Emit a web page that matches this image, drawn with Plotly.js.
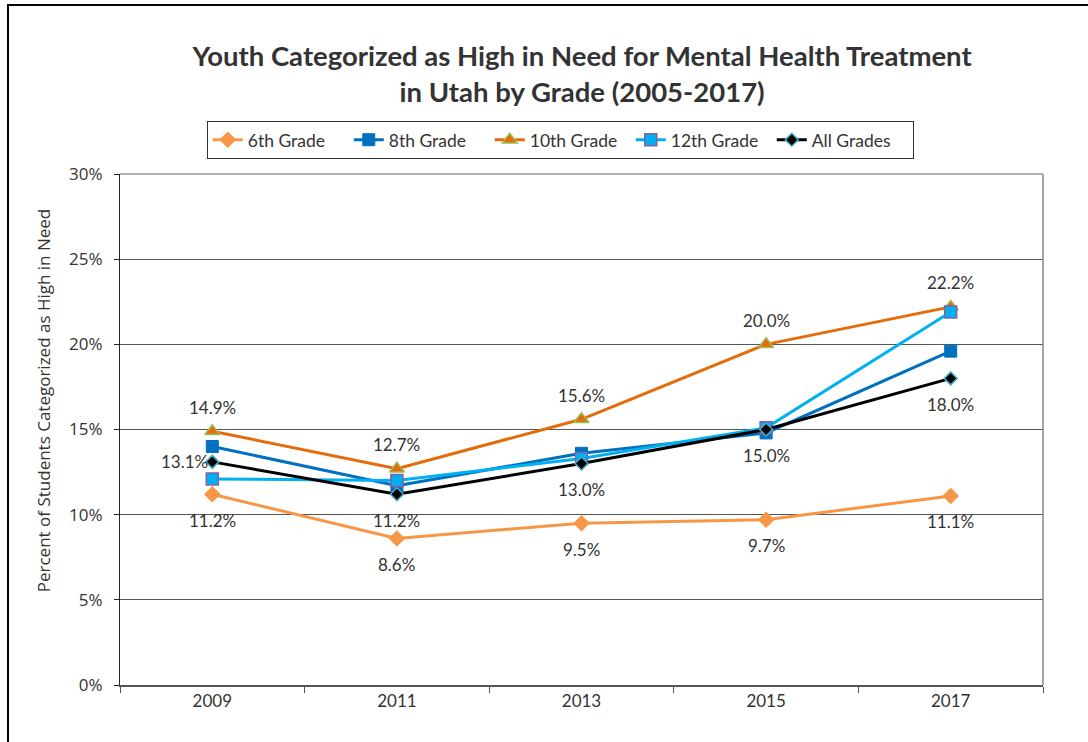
<!DOCTYPE html>
<html>
<head>
<meta charset="utf-8">
<script src="https://cdn.plot.ly/plotly-3.0.1.min.js"></script>
<style>
  html, body { margin: 0; padding: 0; background: #fff; }
  #frame { position: absolute; left: 7px; top: 4px; width: 1100px; height: 760px; border-left: 2px solid #000; border-top: 2px solid #000; pointer-events: none; z-index: 10; }
  #chart { position: absolute; left: 0; top: 0; width: 1088px; height: 742px; }
</style>
</head>
<body>
<div id="chart"></div>
<div id="frame"></div>
<script>
const years = ['2009', '2011', '2013', '2015', '2017'];
const grade6 = [11.2, 8.6, 9.5, 9.7, 11.1];
const grade8 = [14.0, 11.7, 13.6, 14.8, 19.6];
const grade10 = [14.9, 12.7, 15.6, 20.0, 22.2];
const grade12 = [12.1, 12.0, 13.3, 15.1, 21.9];
const allGrades = [13.1, 11.2, 13.0, 15.0, 18.0];
const yTicks = [0, 5, 10, 15, 20, 25, 30];

const traces = [
  { name: '6th Grade', x: years, y: grade6, type: 'scatter', mode: 'lines+markers',
    line: { color: '#F79646', width: 3 },
    marker: { symbol: 'diamond', size: 12, color: '#F79646', line: { color: '#F79646', width: 1 } } },
  { name: '8th Grade', x: years, y: grade8, type: 'scatter', mode: 'lines+markers',
    line: { color: '#0070C0', width: 3 },
    marker: { symbol: 'square', size: 12, color: '#0070C0', line: { color: '#0070C0', width: 1 } } },
  { name: '10th Grade', x: years, y: grade10, type: 'scatter', mode: 'lines+markers',
    line: { color: '#E46C0A', width: 3 },
    marker: { symbol: 'triangle-up', size: 13, color: '#E46C0A', line: { color: '#9BBB59', width: 1.5 } } },
  { name: '12th Grade', x: years, y: grade12, type: 'scatter', mode: 'lines+markers',
    line: { color: '#00B0F0', width: 3 },
    marker: { symbol: 'square', size: 12, color: '#00B0F0', line: { color: '#8064A2', width: 1.5 } } },
  { name: 'All Grades', x: years, y: allGrades, type: 'scatter', mode: 'lines+markers',
    line: { color: '#000000', width: 3 },
    marker: { symbol: 'diamond', size: 10, color: '#000000', line: { color: '#4BACC6', width: 1.5 } } }
];

const labelFont = { family: 'Lato, "Open Sans", sans-serif', size: 17, color: '#333333' };
const annotations = [];
years.forEach((yr, i) => {
  annotations.push({ x: i, y: grade10[i], text: grade10[i].toFixed(1) + '%', showarrow: false,
    yshift: 24, font: labelFont });
  annotations.push({ x: i, y: grade6[i], text: grade6[i].toFixed(1) + '%', showarrow: false,
    yshift: -26, font: labelFont });
  if (i === 0) {
    annotations.push({ x: i, y: allGrades[i], text: allGrades[i].toFixed(1) + '%', showarrow: false,
      xanchor: 'right', xshift: -2, yshift: 0, font: labelFont });
  } else {
    annotations.push({ x: i, y: allGrades[i], text: allGrades[i].toFixed(1) + '%', showarrow: false,
      yshift: -26, font: labelFont });
  }
});
annotations.push({ xref: 'paper', yref: 'paper', x: -0.083, y: 0.558, xanchor: 'center', yanchor: 'middle',
  text: 'Percent of Students Categorized as High in Need',
  textangle: -90, showarrow: false, font: { family: 'Open Sans, sans-serif', size: 17, color: '#333333' } });

const layout = {
  width: 1088, height: 742,
  margin: { l: 120, r: 45, t: 174, b: 57 },
  paper_bgcolor: '#ffffff', plot_bgcolor: '#ffffff',
  font: { family: 'Lato, sans-serif', size: 16, color: '#333333' },
  title: { text: 'Youth Categorized as High in Need for Mental Health Treatment<br>in Utah by Grade (2005-2017)',
    x: 0.535, xanchor: 'center', y: 0.911, yanchor: 'middle',
    font: { family: 'Lato, sans-serif', size: 27.5, color: '#333333', weight: 'bold' } },
  showlegend: true,
  legend: { orientation: 'h', x: 0.477, xanchor: 'center', y: 1.104, yanchor: 'top',
    bordercolor: '#333333', borderwidth: 1, bgcolor: '#ffffff',
    font: { family: 'Lato, sans-serif', size: 17.5, color: '#333333' },
    entrywidth: 96, entrywidthmode: 'pixels', tracegroupgap: 0 },
  xaxis: { type: 'category', categoryarray: years, tickson: 'boundaries', ticks: 'outside', ticklen: 6,
    tickcolor: '#555555', showline: true, linecolor: '#555555', linewidth: 1.5, showgrid: false,
    tickfont: { family: 'Lato, sans-serif', size: 17, color: '#333333' }, range: [-0.5, 4.5] },
  yaxis: { range: [0, 30], tickvals: yTicks, ticktext: yTicks.map(v => v + '%'), ticks: 'outside', ticklen: 5,
    tickcolor: '#222222', showline: true, linecolor: '#222222', linewidth: 1, showgrid: true,
    gridcolor: '#555555', gridwidth: 1, zeroline: false, ticklabelstandoff: 8,
    tickfont: { family: 'Open Sans, sans-serif', size: 17, color: '#333333' } },
  shapes: [
    { type: 'line', xref: 'paper', yref: 'paper', x0: 1, x1: 1, y0: 0, y1: 1, line: { color: '#888888', width: 1.5 } },
    { type: 'line', xref: 'paper', yref: 'paper', x0: 0, x1: 1, y0: 1, y1: 1, line: { color: '#999999', width: 1.5 } }
  ],
  annotations: annotations
};

Plotly.newPlot('chart', traces, layout, { displayModeBar: false, staticPlot: true });
</script>
</body>
</html>
